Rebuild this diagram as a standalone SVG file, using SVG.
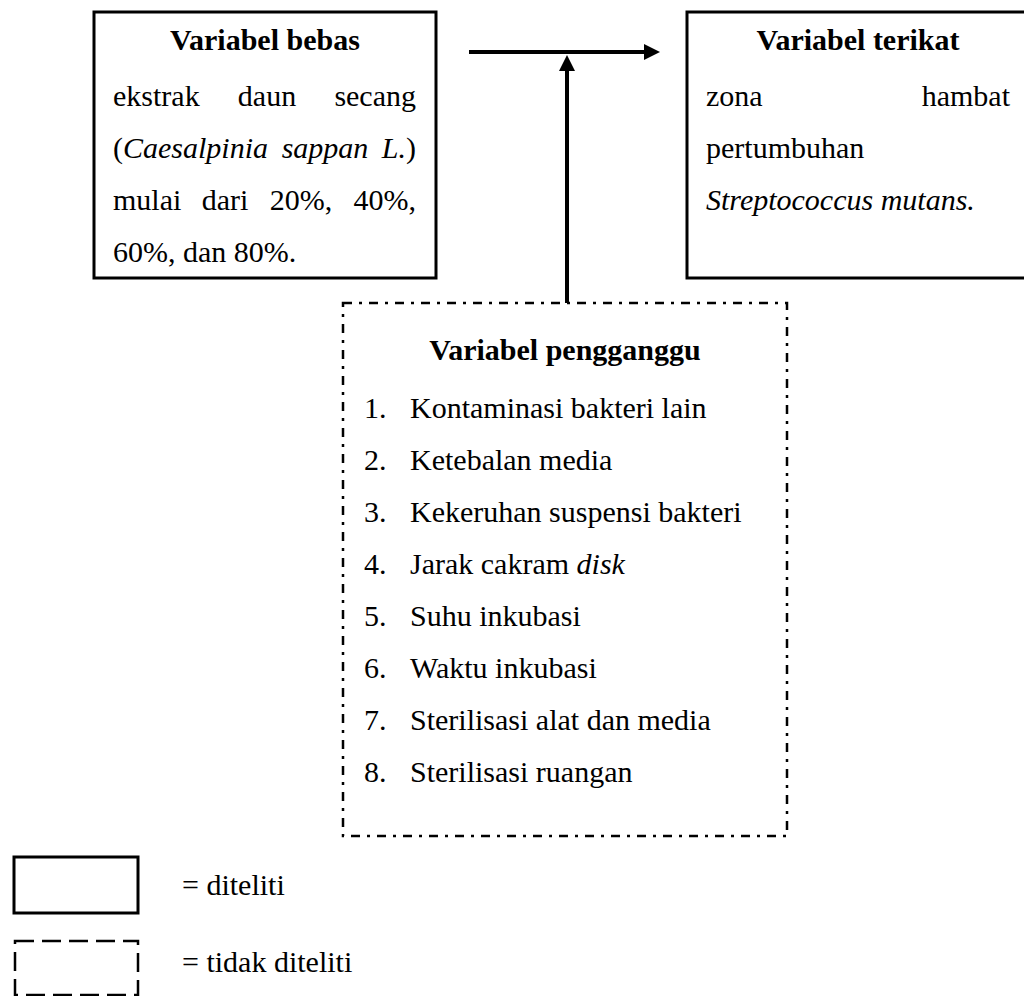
<svg xmlns="http://www.w3.org/2000/svg" width="1024" height="996" viewBox="0 0 1024 996">
<defs>
<style>
text{font-family:"Liberation Serif","Times New Roman",serif;font-size:30px;fill:#000}
.b{font-weight:bold}
.i{font-style:italic}
.box{fill:#fff;stroke:#000;stroke-width:3}
.dd{fill:none;stroke:#000;stroke-width:2.5;stroke-dasharray:9,7,3,7}
.ds{fill:none;stroke:#000;stroke-width:2.5;stroke-dasharray:19,8}
.conn{stroke:#000;stroke-width:4;fill:none}
</style>
<marker id="ah" markerWidth="4" markerHeight="4" refX="0.5" refY="2" orient="auto" markerUnits="strokeWidth">
<path d="M0,0 L4,2 L0,4 Z" fill="#000"/>
</marker>
</defs>
<g id="node-bebas">
<rect class="box" x="94" y="12" width="342" height="266"/>
<text class="b" x="265" y="50" text-anchor="middle">Variabel bebas</text>
<text x="113" y="106">ekstrak</text>
<text x="267" y="106" text-anchor="middle">daun</text>
<text x="416" y="106" text-anchor="end">secang</text>
<text x="113" y="158">(<tspan class="i">Caesalpinia</tspan></text>
<text x="325" y="158" text-anchor="middle" class="i">sappan</text>
<text x="416" y="158" text-anchor="end"><tspan class="i">L.</tspan>)</text>
<text x="113" y="210">mulai</text>
<text x="225" y="210" text-anchor="middle">dari</text>
<text x="301" y="210" text-anchor="middle">20%,</text>
<text x="416" y="210" text-anchor="end">40%,</text>
<text x="113" y="262">60%, dan 80%.</text>
</g>
<g id="node-terikat">
<rect class="box" x="687" y="12" width="342" height="266"/>
<text class="b" x="858" y="50" text-anchor="middle">Variabel terikat</text>
<text x="706" y="106">zona</text>
<text x="1010" y="106" text-anchor="end">hambat</text>
<text x="706" y="158">pertumbuhan</text>
<text class="i" x="706" y="210">Streptococcus mutans.</text>
</g>
<g id="node-pengganggu">
<rect class="dd" x="343" y="303" width="444" height="533"/>
<text class="b" x="565" y="360" text-anchor="middle">Variabel pengganggu</text>
<text x="364" y="418">1.</text><text x="410" y="418">Kontaminasi bakteri lain</text>
<text x="364" y="470">2.</text><text x="410" y="470">Ketebalan media</text>
<text x="364" y="522">3.</text><text x="410" y="522">Kekeruhan suspensi bakteri</text>
<text x="364" y="574">4.</text><text x="410" y="574">Jarak cakram <tspan class="i">disk</tspan></text>
<text x="364" y="626">5.</text><text x="410" y="626">Suhu inkubasi</text>
<text x="364" y="678">6.</text><text x="410" y="678">Waktu inkubasi</text>
<text x="364" y="730">7.</text><text x="410" y="730">Sterilisasi alat dan media</text>
<text x="364" y="782">8.</text><text x="410" y="782">Sterilisasi ruangan</text>
</g>
<g id="connectors">
<line class="conn" x1="469" y1="52" x2="646" y2="52" marker-end="url(#ah)"/>
<line class="conn" x1="567" y1="303" x2="567" y2="69" marker-end="url(#ah)"/>
</g>
<g id="legend">
<rect class="box" x="14" y="857" width="124" height="56" stroke-width="2.5"/>
<text x="182" y="895">= diteliti</text>
<rect class="ds" x="15" y="941" width="123" height="54"/>
<text x="182" y="972">= tidak diteliti</text>
</g>
</svg>
